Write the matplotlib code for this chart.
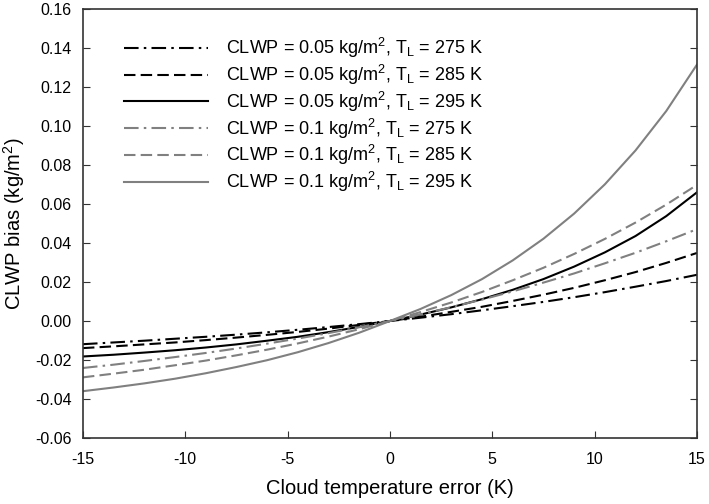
import matplotlib.pyplot as plt

plt.rcParams['font.family'] = ['Liberation Sans', 'DejaVu Sans']
plt.rcParams['mathtext.default'] = 'regular'
plt.rcParams['axes.unicode_minus'] = False

# cloud temperature error (K)
temp_error = [-15, -13.5, -12, -10.5, -9, -7.5, -6, -4.5, -3, -1.5, 0,
              1.5, 3, 4.5, 6, 7.5, 9, 10.5, 12, 13.5, 15]

# CLWP bias (kg/m2)
bias_005_275 = [-0.0119, -0.0110, -0.0101, -0.0091, -0.0081, -0.0070, -0.0058,
                -0.0045, -0.0031, -0.0016, 0.0, 0.0017, 0.0035, 0.0055,
                0.0076, 0.0098, 0.0122, 0.0148, 0.0176, 0.0205, 0.0237]
bias_005_285 = [-0.0139, -0.0130, -0.0120, -0.0110, -0.0098, -0.0085, -0.0071,
                -0.0056, -0.0039, -0.0020, 0.0, 0.0022, 0.0047, 0.0073,
                0.0103, 0.0135, 0.0170, 0.0209, 0.0251, 0.0298, 0.0349]
bias_005_295 = [-0.0182, -0.0173, -0.0162, -0.0150, -0.0136, -0.0120, -0.0101,
                -0.0081, -0.0057, -0.0030, 0.0, 0.0033, 0.0070, 0.0112,
                0.0160, 0.0215, 0.0279, 0.0352, 0.0436, 0.0538, 0.0660]
bias_01_275 = [-0.0241, -0.0224, -0.0205, -0.0185, -0.0164, -0.0141, -0.0116,
               -0.0090, -0.0062, -0.0032, 0.0, 0.0034, 0.0071, 0.0110,
               0.0152, 0.0197, 0.0244, 0.0296, 0.0350, 0.0409, 0.0471]
bias_01_285 = [-0.0289, -0.0270, -0.0250, -0.0227, -0.0203, -0.0176, -0.0147,
               -0.0115, -0.0080, -0.0042, 0.0, 0.0046, 0.0095, 0.0149,
               0.0209, 0.0273, 0.0344, 0.0421, 0.0505, 0.0597, 0.0698]
bias_01_295 = [-0.0360, -0.0341, -0.0320, -0.0296, -0.0268, -0.0236, -0.0201,
               -0.0160, -0.0113, -0.0060, 0.0, 0.0062, 0.0133, 0.0215,
               0.0311, 0.0422, 0.0551, 0.0701, 0.0875, 0.1077, 0.1315]

labels = [
    r'CLWP = 0.05 kg/m$^2$, T$_L$ = 275 K',
    r'CLWP = 0.05 kg/m$^2$, T$_L$ = 285 K',
    r'CLWP = 0.05 kg/m$^2$, T$_L$ = 295 K',
    r'CLWP = 0.1 kg/m$^2$, T$_L$ = 275 K',
    r'CLWP = 0.1 kg/m$^2$, T$_L$ = 285 K',
    r'CLWP = 0.1 kg/m$^2$, T$_L$ = 295 K',
]

dashdot = (0, (7, 2.5, 1.2, 2.5))
dashed = (0, (5.5, 2.5))
gray = '#808080'

fig = plt.figure(figsize=(7.09, 5.04), dpi=100)
ax = fig.add_axes([0.117, 0.131, 0.866, 0.851])

ax.plot(temp_error, bias_005_275, color='black', lw=1.5, ls=dashdot, label=labels[0])
ax.plot(temp_error, bias_005_285, color='black', lw=1.5, ls=dashed, label=labels[1])
ax.plot(temp_error, bias_005_295, color='black', lw=1.5, ls='-', label=labels[2])
ax.plot(temp_error, bias_01_275, color=gray, lw=1.5, ls=dashdot, label=labels[3])
ax.plot(temp_error, bias_01_285, color=gray, lw=1.5, ls=dashed, label=labels[4])
ax.plot(temp_error, bias_01_295, color=gray, lw=1.5, ls='-', label=labels[5])

ax.set_xlim(-15, 15)
ax.set_ylim(-0.06, 0.16)
ax.set_xticks(range(-15, 16, 5))
ax.set_yticks([-0.06 + 0.02 * i for i in range(12)])
ax.set_yticklabels([f'{-0.06 + 0.02 * i:.2f}' for i in range(12)])
ax.tick_params(direction='in', length=5, labelsize=11.5, right=True, top=False,
               color='#333333')
ax.tick_params(axis='x', pad=10)
ax.tick_params(axis='y', pad=8)
for s in ax.spines.values():
    s.set_color('#333333')
    s.set_linewidth(1.2)

ax.set_xlabel('Cloud temperature error (K)', fontsize=14.5, labelpad=9)
ax.set_ylabel(r'CLWP bias (kg/m$^2$)', fontsize=14.5, labelpad=6)

ax.legend(loc='upper left', bbox_to_anchor=(0.041, 0.975), frameon=False,
          fontsize=13, handlelength=4.65, handletextpad=1.0, labelspacing=0.15)

fig.savefig('out.png', dpi=100)
